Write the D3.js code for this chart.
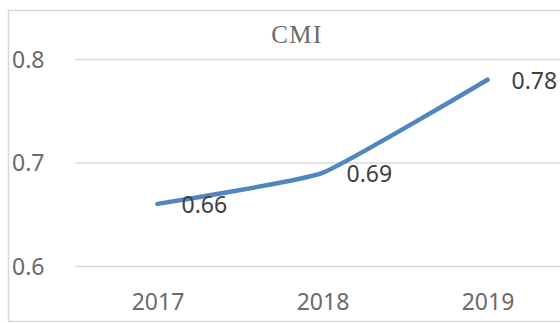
<!DOCTYPE html>
<html>
<head>
<meta charset="utf-8">
<script src="https://cdn.jsdelivr.net/npm/d3@7/dist/d3.min.js"></script>
<style>
  html, body { margin: 0; padding: 0; background: #fff; }
  svg { display: block; }
</style>
</head>
<body>
<svg id="chart" width="560" height="323"></svg>
<script>
// Chart data
const years = ["2017", "2018", "2019"];
const cmiValues = [0.66, 0.69, 0.78];
const yTicks = [0.6, 0.7, 0.8];
const chartTitle = "CMI";

const svg = d3.select("#chart");
const W = 560, H = 323;

// Plot area (extends past the right edge of the frame)
const plot = { left: 75, right: 570, top: 59, bottom: 266 };

const x = d3.scalePoint()
  .domain(years)
  .range([plot.left, plot.right])
  .padding(0.5);

const y = d3.scaleLinear()
  .domain([0.6, 0.8])
  .range([plot.bottom, plot.top]);

// Outer frame (left, top, bottom edges)
svg.append("path")
  .attr("d", `M8.5,${H - 1.5} L8.5,10.5 L${W},10.5 M8.5,${H - 1.5} L${W},${H - 1.5}`)
  .attr("fill", "none")
  .attr("stroke", "#d9d9d9")
  .attr("stroke-width", 1.5);

// Gridlines + y tick labels through a left axis
const yAxis = d3.axisLeft(y)
  .tickValues(yTicks)
  .tickFormat(d3.format(".1f"))
  .tickSize(-(W - plot.left))
  .tickPadding(30);

const gy = svg.append("g")
  .attr("transform", `translate(${plot.left},0)`)
  .call(yAxis);
gy.select(".domain").remove();
gy.selectAll(".tick line")
  .attr("stroke", "#d9d9d9")
  .attr("stroke-width", 1.5);
gy.selectAll(".tick text")
  .attr("text-anchor", "start")
  .attr("x", 12 - plot.left)
  .attr("dy", "0.36em")
  .attr("fill", "#6a6a6a")
  .style("font-family", "'Noto Sans', sans-serif")
  .style("font-size", "23px");

// X axis labels
const xAxis = d3.axisBottom(x).tickSize(0).tickPadding(0);
const gx = svg.append("g")
  .attr("transform", `translate(0,${plot.bottom})`)
  .call(xAxis);
gx.select(".domain").remove();
gx.selectAll(".tick text")
  .attr("y", 44)
  .attr("dy", 0)
  .attr("fill", "#6a6a6a")
  .style("font-family", "'Noto Sans', sans-serif")
  .style("font-size", "23px");

// Title
svg.append("text")
  .attr("x", 297)
  .attr("y", 43)
  .attr("text-anchor", "middle")
  .attr("fill", "#6a6a6a")
  .style("font-family", "'Liberation Serif', 'DejaVu Serif', serif")
  .style("font-size", "25px")
  .style("letter-spacing", "1.5px")
  .text(chartTitle);

// Lightly smoothed line
const points = years.map((yr, i) => ({ yr, v: cmiValues[i] }));
const line = d3.line()
  .x(d => x(d.yr))
  .y(d => y(d.v))
  .curve(d3.curveCardinal.tension(0.6));

svg.append("path")
  .datum(points)
  .attr("d", line)
  .attr("fill", "none")
  .attr("stroke", "#4f86c0")
  .attr("stroke-width", 4.5)
  .attr("stroke-linecap", "round");

// Value labels to the right of each point
svg.append("g")
  .selectAll("text")
  .data(points)
  .join("text")
  .attr("x", d => x(d.yr) + 24)
  .attr("y", d => y(d.v) + 9)
  .attr("fill", "#404040")
  .style("font-family", "'Noto Sans', sans-serif")
  .style("font-size", "23px")
  .text(d => d3.format(".2f")(d.v));
</script>
</body>
</html>
